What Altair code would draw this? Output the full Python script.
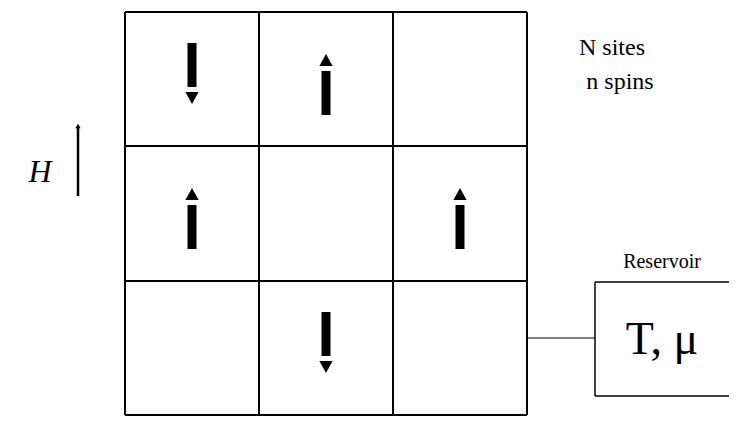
import altair as alt
import pandas as pd

# grid geometry (image coords)
col_edges = [125, 259, 393, 527]
row_edges = [12, 146, 281, 415]
col_centers = [192, 326, 460]
row_centers = [79, 213, 348]

# spins: (row, col, direction)
spin_rows = [0, 0, 1, 1, 2]
spin_cols = [0, 1, 0, 2, 1]
spin_dirs = ["down", "up", "up", "up", "down"]

X = alt.Scale(domain=[8, 729])
Y = alt.Scale(domain=[421, 8])

def xq(f): return alt.X(f, type="quantitative", scale=X, axis=None)
def yq(f): return alt.Y(f, type="quantitative", scale=Y, axis=None)

lines = []
for x in col_edges:
    lines.append(dict(x=x, x2=x, y=row_edges[0], y2=row_edges[-1], w=2))
for y in row_edges:
    lines.append(dict(x=col_edges[0], x2=col_edges[-1], y=y, y2=y, w=2))
bx0, bx1, by0, by1 = 595, 730, 282, 396
lines += [dict(x=bx0, x2=bx1, y=by0, y2=by0, w=1.5), dict(x=bx0, x2=bx1, y=by1, y2=by1, w=1.5),
          dict(x=bx0, x2=bx0, y=by0, y2=by1, w=1.5), dict(x=bx1, x2=bx1, y=by0, y2=by1, w=1.5),
          dict(x=527, x2=595, y=338, y2=338, w=1)]
ldf = pd.DataFrame(lines)

shafts, heads = [], []
for r, c, d in zip(spin_rows, spin_cols, spin_dirs):
    cx, cy = col_centers[c], row_centers[r]
    if d == "up":
        shafts.append(dict(x=cx, y=cy - 8, y2=cy + 36, w=9))
        heads.append(dict(x=cx, y=cy - 19, d="up", s=700))
    else:
        shafts.append(dict(x=cx, y=cy - 36, y2=cy + 8, w=9))
        heads.append(dict(x=cx, y=cy + 19, d="down", s=700))
shafts.append(dict(x=78, y=128, y2=196, w=2.5))
heads.append(dict(x=78, y=126, d="up", s=110))
sdf = pd.DataFrame(shafts)
hdf = pd.DataFrame(heads)

grid = alt.Chart(ldf).mark_rule(color="black").encode(
    x=xq("x"), x2="x2", y=yq("y"), y2="y2", strokeWidth=alt.StrokeWidth("w:Q", scale=None))
shaft = alt.Chart(sdf).mark_rule(color="black").encode(
    x=xq("x"), y=yq("y"), y2="y2", strokeWidth=alt.StrokeWidth("w:Q", scale=None))
up = alt.Chart(hdf[hdf.d == "up"]).mark_point(
    shape="M-0.5,0.45L0,-0.45L0.5,0.45Z", filled=True, color="black", opacity=1).encode(
    x=xq("x"), y=yq("y"), size=alt.Size("s:Q", scale=None))
down = alt.Chart(hdf[hdf.d == "down"]).mark_point(
    shape="M-0.5,-0.45L0,0.45L0.5,-0.45Z", filled=True, color="black", opacity=1).encode(
    x=xq("x"), y=yq("y"), size=alt.Size("s:Q", scale=None))

font = "Liberation Serif"
tdf = pd.DataFrame([
    dict(x=612, y=48, t="N sites", s=24),
    dict(x=620, y=82, t="n spins", s=24),
    dict(x=662, y=262, t="Reservoir", s=20),
    dict(x=662, y=340, t="T, μ", s=46),
])
hdf2 = pd.DataFrame([dict(x=40, y=172, t="H", s=32)])
texts = alt.Chart(tdf).mark_text(font=font, color="black", align="center", baseline="middle").encode(
    x=xq("x"), y=yq("y"), text="t:N", size=alt.Size("s:Q", scale=None))
htext = alt.Chart(hdf2).mark_text(font=font, fontStyle="italic", color="black",
                                  align="center", baseline="middle").encode(
    x=xq("x"), y=yq("y"), text="t:N", size=alt.Size("s:Q", scale=None))

chart = alt.layer(grid, shaft, up, down, texts, htext).properties(
    width=721, height=413, padding=0, autosize="none"
).configure_view(stroke=None)
chart.save("out.html", embed_options={"renderer": "svg", "actions": False})
